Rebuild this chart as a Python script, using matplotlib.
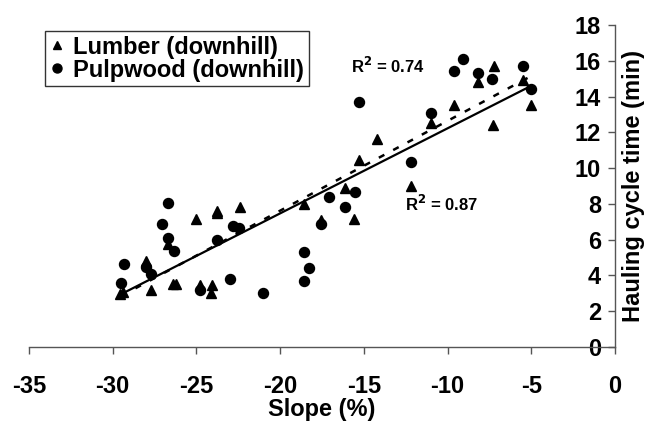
import numpy as np
import matplotlib
matplotlib.use("Agg")
import matplotlib.pyplot as plt

plt.rcParams["font.family"] = ["Liberation Sans", "DejaVu Sans"]
plt.rcParams["font.weight"] = "bold"

# ── data ──────────────────────────────────────────────────────────────────────
lumber_x = [-29.55, -29.4, -28.0, -27.7, -26.7, -26.4, -26.2, -25.0, -24.8, -23.8,
            -23.75, -24.05, -24.1, -22.4, -18.6, -17.55, -16.1, -15.6, -15.3, -14.2,
            -12.2, -11.0, -9.6, -8.2, -7.2, -7.3, -5.5, -5.0]
lumber_y = [2.95, 3.05, 4.8, 3.2, 5.75, 3.5, 3.5, 7.15, 3.45, 7.6,
            7.5, 3.45, 3.0, 7.8, 8.0, 7.1, 8.9, 7.15, 10.45, 11.6,
            9.0, 12.5, 13.55, 14.8, 15.7, 12.4, 14.9, 13.55]

pulp_x = [-29.5, -29.3, -28.0, -27.7, -27.05, -26.7, -26.7, -26.35, -24.8, -23.8,
          -23.0, -22.8, -22.45, -21.0, -18.6, -18.3, -18.55, -17.55, -17.1, -16.1,
          -15.55, -15.3, -12.2, -11.0, -9.6, -9.1, -8.2, -7.35, -5.5, -5.0]
pulp_y = [3.55, 4.65, 4.5, 4.1, 6.9, 8.05, 6.1, 5.35, 3.2, 6.0,
          3.8, 6.75, 6.65, 3.0, 5.3, 4.4, 3.7, 6.85, 8.4, 7.85,
          8.65, 13.7, 10.35, 13.1, 15.45, 16.1, 15.3, 15.0, 15.7, 14.45]

# trend lines: slope, intercept, x range
fit_solid = (0.4755, 16.98)
fit_dash = (0.502, 17.66)
fit_range = [-29.5, -5.0]

x_ticks = [-35, -30, -25, -20, -15, -10, -5, 0]
y_ticks = [0, 2, 4, 6, 8, 10, 12, 14, 16, 18]

# ── render ────────────────────────────────────────────────────────────────────
fig = plt.figure(figsize=(6.52, 4.24), dpi=100, facecolor="white")
ax = fig.add_axes([29/652, 77/424, 586/652, 322/424])
ax.set_xlim(-35, 0)
ax.set_ylim(0, 18)

ax.plot(lumber_x, lumber_y, "^", color="black", ms=6.5, ls="none",
        label="Lumber (downhill)", zorder=3)
ax.plot(pulp_x, pulp_y, "o", color="black", ms=7.2, ls="none",
        label="Pulpwood (downhill)", zorder=3)

xr = np.array(fit_range)
ax.plot(xr, fit_solid[0]*xr + fit_solid[1], color="black", lw=1.6, zorder=2)
ax.plot(xr, fit_dash[0]*xr + fit_dash[1], color="black", lw=1.8,
        dashes=(2.5, 4), zorder=2)

ax.text(-15.75, 15.7, "R$^2$ = 0.74", fontsize=12, fontweight="bold",
        va="center", ha="left")
ax.text(-12.55, 8.0, "R$^2$ = 0.87", fontsize=12, fontweight="bold",
        va="center", ha="left")

# spines: x axis at y=0, y axis at x=0
for s in ["top", "right"]:
    ax.spines[s].set_visible(False)
ax.spines["left"].set_position(("data", 0))
for s in ["left", "bottom"]:
    ax.spines[s].set_color("#555555")
    ax.spines[s].set_linewidth(1.0)

ax.set_xticks(x_ticks)
ax.set_xticklabels([str(v) for v in x_ticks])
ax.set_yticks(y_ticks)
ax.set_yticklabels([str(v) for v in y_ticks])
ax.tick_params(axis="x", direction="out", length=5, width=1.0, color="#555555",
               pad=15, labelsize=17)
ax.tick_params(axis="y", direction="out", length=5, width=1.0, color="#555555",
               pad=5, labelsize=17)

ax.set_xlabel("Slope (%)", fontsize=17, fontweight="bold", labelpad=0)
ax.yaxis.set_label_position("right")
ax.set_ylabel("Hauling cycle time (min)", fontsize=17, fontweight="bold",
              labelpad=5)

leg = ax.legend(loc="upper left", bbox_to_anchor=(0.027, 0.982), borderaxespad=0,
                fontsize=17, frameon=True, fancybox=False, handlelength=0.6,
                handletextpad=0.4, borderpad=0.2, labelspacing=0.0,
                markerscale=0.9)
leg.get_frame().set_edgecolor("black")
leg.get_frame().set_linewidth(1.0)

fig.savefig("out.png", dpi=100, facecolor="white")
